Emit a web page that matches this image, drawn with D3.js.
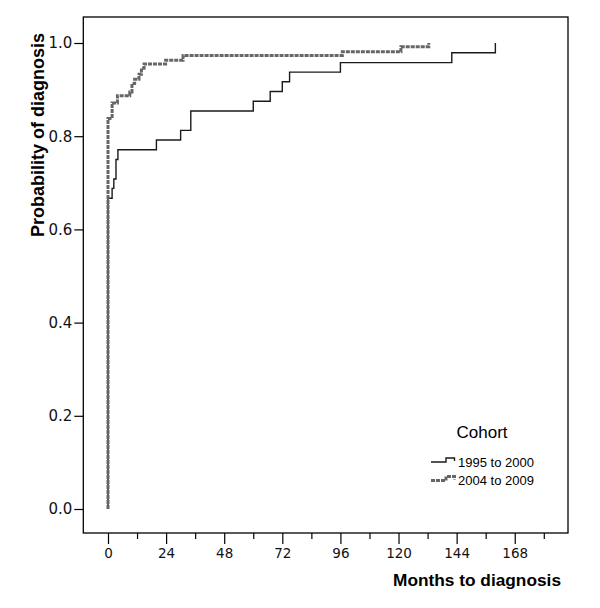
<!DOCTYPE html>
<html><head><meta charset="utf-8">
<script src="https://cdn.jsdelivr.net/npm/d3@7"></script>
<style>html,body{margin:0;padding:0;background:#fff;}</style>
</head><body>
<svg id="c" width="600" height="608"></svg>
<script>
// Data
const seriesNames = ["1995 to 2000", "2004 to 2009"];
const months1995 = [0, 0, 1.7, 2.4, 3.3, 4.1, 20, 30, 34.2, 60, 67, 72, 75, 96, 142, 160];
const prob1995   = [0, 0.667, 0.688, 0.708, 0.75, 0.771, 0.792, 0.8125, 0.854, 0.875, 0.896, 0.917, 0.9375, 0.958, 0.979, 1.0];
const months2004 = [0, 0, 1.7, 3.9, 9, 9.9, 11, 12.8, 13.8, 14.9, 23.8, 31, 96.8, 121, 132.5];
const prob2004   = [0, 0.838, 0.871, 0.887, 0.895, 0.913, 0.922, 0.933, 0.946, 0.955, 0.963, 0.973, 0.981, 0.992, 1.0];
const xMajorTicks = [0, 24, 48, 72, 96, 120, 144, 168];
const xMinorTicks = [12, 36, 60, 84, 108, 132, 156, 180];
const yTicks = [0, 0.2, 0.4, 0.6, 0.8, 1.0];

const svg = d3.select("#c");
const L = 83.3, R = 568, T = 17, B = 533;
const x = d3.scaleLinear().domain([-10.2, 190]).range([L, R]);
const y = d3.scaleLinear().domain([-0.0515, 1.0558]).range([B, T]);

// frame
svg.append("rect").attr("x", L).attr("y", T).attr("width", R - L).attr("height", B - T)
  .attr("fill", "none").attr("stroke", "#000").attr("stroke-width", 1.3);

// x axis
const xAxis = d3.axisBottom(x).tickValues(xMajorTicks).tickSize(11).tickPadding(4).tickFormat(d3.format("d"));
const gx = svg.append("g").attr("transform", `translate(0,${B})`).call(xAxis);
gx.select(".domain").remove();
gx.selectAll(".tick line").attr("stroke", "#000").attr("stroke-width", 1.2);
gx.selectAll(".tick text").attr("font-family", "DejaVu Sans, Verdana, sans-serif").attr("font-size", 13.5).attr("fill", "#111");
const gxm = svg.append("g").attr("transform", `translate(0,${B})`)
  .call(d3.axisBottom(x).tickValues(xMinorTicks).tickSize(6).tickFormat(""));
gxm.select(".domain").remove();
gxm.selectAll(".tick line").attr("stroke", "#000").attr("stroke-width", 1.2);

// y axis
const yAxis = d3.axisLeft(y).tickValues(yTicks).tickSize(9).tickPadding(2).tickFormat(d3.format(".1f"));
const gy = svg.append("g").attr("transform", `translate(${L},0)`).call(yAxis);
gy.select(".domain").remove();
gy.selectAll(".tick line").attr("stroke", "#000").attr("stroke-width", 1.2);
gy.selectAll(".tick text").attr("font-family", "DejaVu Sans, Verdana, sans-serif").attr("font-size", 15).attr("fill", "#111");

// axis titles
svg.append("text").attr("transform", "translate(44,135) rotate(-90)")
  .attr("text-anchor", "middle").attr("font-family", "Liberation Sans, Arial, sans-serif")
  .attr("font-weight", "bold").attr("font-size", 18).attr("fill", "#000")
  .text("Probability of diagnosis");
svg.append("text").attr("x", 561).attr("y", 586).attr("text-anchor", "end")
  .attr("font-family", "Liberation Sans, Arial, sans-serif")
  .attr("font-weight", "bold").attr("font-size", 17.3).attr("fill", "#000")
  .text("Months to diagnosis");

// curves
const line = d3.line().x(d => x(d[0])).y(d => y(d[1])).curve(d3.curveStepAfter);
const d1995 = months1995.map((m, i) => [m, prob1995[i]]);
const d2004 = months2004.map((m, i) => [m, prob2004[i]]);
svg.append("path").datum(d1995).attr("d", line).attr("fill", "none")
  .attr("stroke", "#1a1a1a").attr("stroke-width", 1.4);
svg.append("path").datum(d2004).attr("d", line).attr("fill", "none")
  .attr("stroke", "#666").attr("stroke-width", 3).attr("stroke-dasharray", "4,1");

// legend
svg.append("text").attr("x", 482).attr("y", 438).attr("text-anchor", "middle")
  .attr("font-family", "Liberation Sans, Arial, sans-serif").attr("font-size", 17).attr("fill", "#000")
  .text("Cohort");
const legY = [462, 480.5];
const legStyles = [
  {stroke: "#1a1a1a", w: 1.4, dash: null},
  {stroke: "#666", w: 3, dash: "4,1"}
];
seriesNames.forEach((name, i) => {
  const yy = legY[i];
  svg.append("path").attr("d", `M431,${yy} H446 V${yy - 4} H454.5 V${yy - 1}`)
    .attr("fill", "none").attr("stroke", legStyles[i].stroke).attr("stroke-width", legStyles[i].w)
    .attr("stroke-dasharray", legStyles[i].dash);
  svg.append("text").attr("x", 458).attr("y", yy + 4.5)
    .attr("font-family", "Liberation Sans, Arial, sans-serif").attr("font-size", 13).attr("fill", "#000")
    .text(name);
});
</script>
</body></html>
